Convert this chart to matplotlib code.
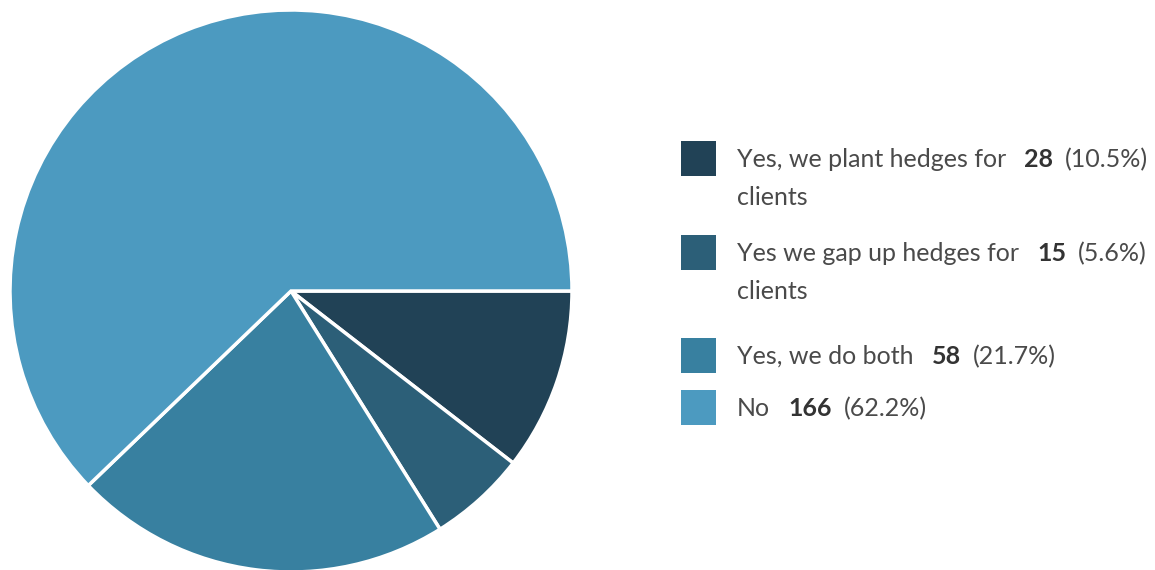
import matplotlib
matplotlib.use("Agg")
import matplotlib.pyplot as plt
from matplotlib.patches import Rectangle

labels = ["Yes, we plant hedges for\nclients", "Yes we gap up hedges for\nclients",
          "Yes, we do both", "No"]
counts = [28, 15, 58, 166]
percents = ["(10.5%)", "(5.6%)", "(21.7%)", "(62.2%)"]
colors = ["#214256", "#2c5f78", "#3880a0", "#4c9ac0"]

W, H = 1155, 570
fig = plt.figure(figsize=(W / 100, H / 100), dpi=100)
fig.patch.set_facecolor("white")

# pie axes: centre (291, 291) from top, radius 281 px
cx, cy, r = 291, H - 291, 281
ax = fig.add_axes([(cx - r) / W, (cy - r) / H, 2 * r / W, 2 * r / H])
ax.pie(counts, colors=colors, startangle=0, counterclock=False,
       wedgeprops=dict(edgecolor="white", linewidth=2.5))
ax.set_xlim(-1, 1)
ax.set_ylim(-1, 1)
ax.axis("off")

# legend drawn in pixel coordinates
font = "Lato"
fs = 18
text_col = "#4a4a4a"
num_col = "#333333"
row_tops = [141, 235, 338, 390]
box = 35
renderer = fig.canvas.get_renderer()

for lab, n, pct, col, top in zip(labels, counts, percents, colors, row_tops):
    fig.add_artist(Rectangle((681 / W, (H - top - box) / H), box / W, box / H,
                             transform=fig.transFigure, facecolor=col,
                             edgecolor="none"))
    lines = lab.split("\n")
    y0 = top + box / 2 + 1
    t = fig.text(737 / W, (H - y0) / H, lines[0], fontsize=fs, family=font,
                 color=text_col, va="center", ha="left")
    bb = t.get_window_extent(renderer)
    x = bb.x1 + 18
    t2 = fig.text(x / W, (H - y0) / H, str(n), fontsize=fs, family=font,
                  fontweight="bold", color=num_col, va="center", ha="left")
    bb2 = t2.get_window_extent(renderer)
    fig.text((bb2.x1 + 12) / W, (H - y0) / H, pct, fontsize=fs, family=font,
             color=text_col, va="center", ha="left")
    if len(lines) > 1:
        fig.text(737 / W, (H - y0 - 38) / H, lines[1], fontsize=fs, family=font,
                 color=text_col, va="center", ha="left")

fig.savefig("out.png", dpi=100, facecolor="white")
